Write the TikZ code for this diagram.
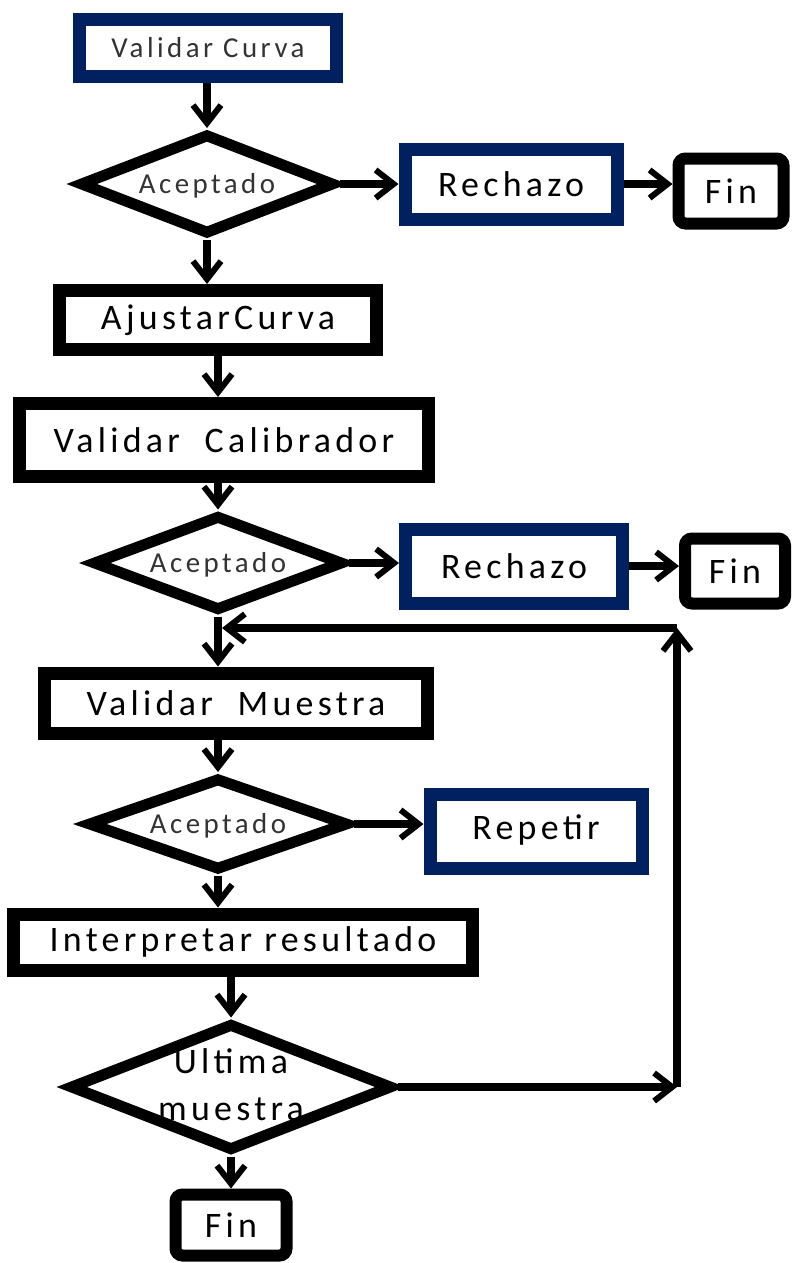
\documentclass[tikz,border=0pt]{standalone}
\usepackage{fontspec}
\setmainfont{Carlito}[LetterSpace=12]
\usetikzlibrary{shapes.geometric,arrows.meta}
\definecolor{navy}{RGB}{0,32,96}
\newcommand\mydtext[1]{\makebox[0pt]{\raisebox{-0.32em}[0pt][0pt]{#1}}}
\begin{document}
\begin{tikzpicture}[x=1bp,y=-1bp,
  big/.style={font=\fontsize{36}{47}\selectfont},
  small/.style={font=\fontsize{29}{34}\selectfont,text=black!80},
  box/.style={draw=black,line width=13bp,inner sep=0pt,big},
  bluebox/.style={box,draw=navy},
  finbox/.style={box,line width=12bp,rounded corners=7bp},
  dec/.style={diamond,draw=black,line width=11bp,inner sep=0pt,small},
  conn/.style={line width=8bp,-{Straight Barb[length=18bp,width=28bp,line width=6bp]}},
]
\useasboundingbox (0,0) rectangle (793,1263);

\node[bluebox,small,minimum width=257bp,minimum height=57bp] (vc) at (208,48) {Validar Curva};
\node[dec,minimum width=255bp,minimum height=101bp] (d1) at (207,184) {\mydtext{Aceptado}};
\node[bluebox,minimum width=212bp,minimum height=70bp] (r1) at (511,184) {Rechazo};
\node[finbox,minimum width=105bp,minimum height=65bp] (f1) at (731,191) {Fin};
\node[box,minimum width=316bp,minimum height=59bp] (ac) at (218,320) {AjustarCurva};
\node[box,minimum width=408bp,minimum height=73bp] (vcal) at (224,440) {Validar\ \ Calibrador};
\node[dec,minimum width=251bp,minimum height=96bp] (d2) at (218,563) {\mydtext{Aceptado}};
\node[bluebox,minimum width=217bp,minimum height=74bp] (r2) at (514,566) {Rechazo};
\node[finbox,minimum width=100bp,minimum height=65bp] (f2) at (735,571) {Fin};
\node[box,minimum width=383bp,minimum height=60bp] (vm) at (236,703) {Validar\ \ Muestra};
\node[dec,minimum width=261bp,minimum height=93bp] (d3) at (218,824) {\mydtext{Aceptado}};
\node[bluebox,minimum width=212bp,minimum height=74bp] (rep) at (536,831) {\raisebox{8bp}{Repetir}};
\node[box,minimum width=458bp,minimum height=56bp] (ip) at (243,942) {Interpretar resultado};
\node[dec,big,text=black,minimum width=323bp,minimum height=128bp] (d4) at (231,1087)
  {\makebox[0pt]{\raisebox{-0.2em}[0pt][0pt]{\begin{tabular}{@{}c@{}}Ultima\\muestra\end{tabular}}}};
\node[finbox,minimum width=111bp,minimum height=61bp] (f3) at (231,1225) {Fin};

\coordinate (j) at (222,628);
\coordinate (c1) at (677,1087);
\coordinate (c2) at (677,628);

\draw[conn] (d1.north |- vc.south) -- (d1.north);
\draw[conn] (d1.east) -- (d1.east -| r1.west);
\draw[conn] (r1.east) -- (r1.east -| f1.west);
\draw[conn] (d1.south) -- (d1.south |- ac.north);
\draw[conn] (ac.south) -- (ac.south |- vcal.north);
\draw[conn] (d2.north |- vcal.south) -- (d2.north);
\draw[conn] (d2.east) -- (d2.east -| r2.west);
\draw[conn] (r2.east) -- (r2.east -| f2.west);
\draw[conn] (d2.south) -- (d2.south |- vm.north);
\draw[conn] (d3.north |- vm.south) -- (d3.north);
\draw[conn] (d3.east) -- (d3.east -| rep.west);
\draw[conn] (d3.south) -- (d3.south |- ip.north);
\draw[conn] (d4.north |- ip.south) -- (d4.north);
\draw[conn] (d4.east) -- (c1);
\draw[conn] (c1) -- (c2);
\draw[conn] (c2) -- (j);
\draw[conn] (d4.south) -- (d4.south |- f3.north);
\end{tikzpicture}
\end{document}
